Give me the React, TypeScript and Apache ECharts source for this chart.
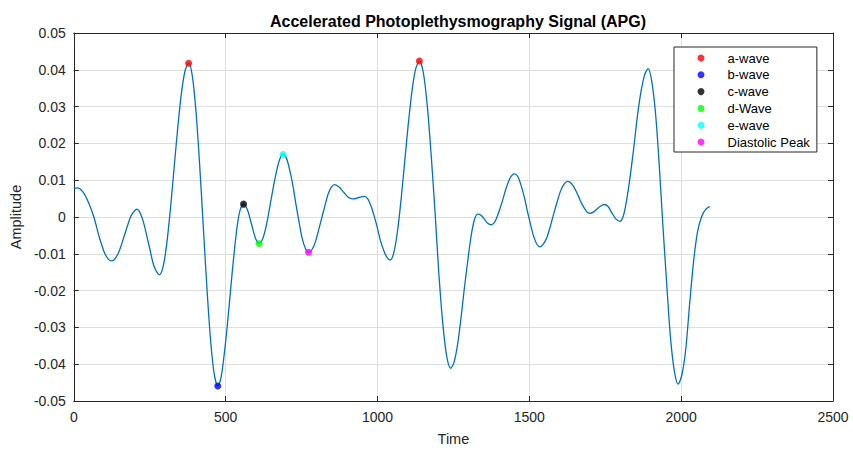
import React, { useEffect, useRef } from "react";
import * as echarts from "echarts";

// APG trace samples (time index, amplitude)
const signalTime = [
  0, 12, 30, 48, 66, 84, 100, 114, 126,
  146, 167, 187, 200, 208,
  226, 245, 263, 275, 282,
  294, 306, 318, 330, 342, 354, 366, 378,
  390, 402, 414, 426, 438, 450, 462, 474,
  485, 495, 506, 516, 527, 538, 548, 559,
  572, 585, 598, 610,
  620, 630, 640, 650, 660, 670, 680, 689,
  700, 710, 721, 731, 742, 752, 763, 773,
  784, 795, 805, 816, 827, 837, 848, 859,
  875, 890, 905, 921, 939, 957,
  968, 978, 989, 1000, 1010, 1021, 1031, 1042,
  1054, 1066, 1078, 1090, 1102, 1114, 1126, 1138,
  1151, 1164, 1177, 1190, 1202, 1215, 1228, 1241,
  1252, 1263, 1274, 1285, 1297, 1308, 1319, 1330,
  1341, 1352, 1363, 1374,
  1384, 1393, 1403, 1413, 1422, 1432, 1441, 1451,
  1462, 1472, 1483, 1493, 1504, 1514, 1525, 1535,
  1546, 1558, 1569, 1580, 1592, 1603, 1615, 1626,
  1635, 1645, 1654, 1663, 1672, 1682, 1691, 1700,
  1712, 1723, 1735, 1747, 1760, 1772, 1785, 1798,
  1810, 1821, 1833, 1845, 1856, 1868, 1880, 1891,
  1903, 1916, 1928, 1940, 1953, 1965, 1978, 1990,
  2002, 2015, 2028, 2041, 2054, 2067, 2080, 2094,
];

const signalAmp = [
  0.0078, 0.0079, 0.0068, 0.004, 0.0, -0.0055, -0.0095, -0.0115, -0.0119,
  -0.0099, -0.0049, 0.0001, 0.0017, 0.0021,
  -0.0005, -0.0068, -0.0131, -0.0152, -0.0157,
  -0.0135, -0.0073, 0.0021, 0.0131, 0.024, 0.0334, 0.0396, 0.0418,
  0.0385, 0.029, 0.0147, -0.002, -0.0188, -0.0331, -0.0425, -0.0459,
  -0.0435, -0.0375, -0.029, -0.02, -0.0105, -0.0025, 0.002, 0.0035,
  0.0019, -0.0019, -0.0057, -0.0072,
  -0.0063, -0.0037, 0.0003, 0.0049, 0.0094, 0.0133, 0.0161, 0.017,
  0.016, 0.0131, 0.0088, 0.0037, -0.0015, -0.0058, -0.0086, -0.0096,
  -0.0089, -0.0069, -0.0039, -0.0004, 0.0031, 0.0061, 0.0081, 0.0088,
  0.008, 0.0066, 0.0053, 0.0049, 0.0053, 0.0056,
  0.0049, 0.0031, 0.0003, -0.0031, -0.0065, -0.0092, -0.011, -0.0117,
  -0.0096, -0.0038, 0.005, 0.0154, 0.0257, 0.0345, 0.0403, 0.0424,
  0.0392, 0.0302, 0.0166, 0.0007, -0.0153, -0.0289, -0.0379, -0.0411,
  -0.0395, -0.035, -0.0282, -0.0201, -0.0121, -0.0053, -0.0008, 0.0008,
  0.0005, -0.0006, -0.0017, -0.0021,
  -0.0016, -0.0001, 0.0022, 0.0048, 0.0074, 0.0097, 0.0112, 0.0117,
  0.011, 0.0088, 0.0056, 0.0018, -0.002, -0.0052, -0.0074, -0.0081,
  -0.0074, -0.0055, -0.0026, 0.0008, 0.0042, 0.0071, 0.009, 0.0097,
  0.0094, 0.0084, 0.007, 0.0054, 0.0037, 0.0023, 0.0013, 0.001,
  0.0014, 0.0022, 0.003, 0.0034, 0.0028, 0.0011, -0.0005, -0.0012,
  0.0004, 0.0049, 0.0116, 0.0196, 0.0275, 0.0342, 0.0387, 0.0403,
  0.037, 0.0278, 0.0138, -0.0025, -0.0189, -0.0329, -0.0421, -0.0454,
  -0.043, -0.036, -0.0235, -0.012, -0.004, 0.0, 0.002, 0.0029,
];

// Detected fiducial points
const aWave = [[378, 0.0418], [1138, 0.0424]];
const bWave = [[474, -0.0459]];
const cWave = [[559, 0.0035]];
const dWave = [[610, -0.0072]];
const eWave = [[689, 0.017]];
const diastolicPeak = [[773, -0.0096]];

const xTicks = { min: 0, max: 2500, interval: 500 };
const yTicks = { min: -0.05, max: 0.05, interval: 0.01 };

const FONT = "'Liberation Sans', Arial, Helvetica, sans-serif";
const AXIS_COLOR = "#262626";
const GRID_COLOR = "#dedede";

export default function App() {
  const ref = useRef<HTMLDivElement>(null);

  useEffect(() => {
    if (!ref.current) return;
    const chart = echarts.init(ref.current, null, { renderer: "svg" });

    const line = signalTime.map((t, i) => [t, signalAmp[i]]);

    const marker = (name: string, color: string, data: number[][]) => ({
      name,
      type: "scatter",
      data,
      symbol: "circle",
      symbolSize: 7,
      itemStyle: { color },
      z: 5,
      xAxisIndex: 0,
      yAxisIndex: 0,
    });

    const frameLine = { show: true, onZero: false, lineStyle: { color: AXIS_COLOR, width: 1 } };
    const frameTick = { show: true, inside: true, length: 5, lineStyle: { color: AXIS_COLOR } };

    const edgeAxisCommon = {
      axisLine: frameLine,
      axisTick: frameTick,
      axisLabel: { show: false },
      splitLine: { show: false },
    };

    chart.setOption({
      animation: false,
      backgroundColor: "#ffffff",
      textStyle: { fontFamily: FONT },
      title: {
        text: "Accelerated Photoplethysmography Signal (APG)",
        left: 453,
        textAlign: "center",
        top: 8,
        textStyle: { fontFamily: FONT, fontSize: 16, fontWeight: "bold", color: "#000000" },
      },
      grid: { left: 73, right: 20, top: 33, bottom: 51, containLabel: false },
      legend: {
        orient: "vertical",
        left: 674,
        top: 47,
        padding: [4, 7, 3, 23.5],
        itemGap: 2.8,
        itemWidth: 25,
        itemHeight: 7,
        icon: "circle",
        borderColor: "#262626",
        borderWidth: 1,
        backgroundColor: "#ffffff",
        textStyle: {
          fontFamily: FONT,
          fontSize: 13,
          color: "#000000",
          lineHeight: 14,
          padding: [0, 0, 0, 9],
        },
        data: ["a-wave", "b-wave", "c-wave", "d-Wave", "e-wave", "Diastolic Peak"],
      },
      xAxis: [
        {
          type: "value",
          position: "bottom",
          ...xTicks,
          name: "Time",
          nameLocation: "middle",
          nameGap: 30,
          nameTextStyle: { fontFamily: FONT, fontSize: 14.5, color: AXIS_COLOR },
          axisLine: frameLine,
          axisTick: frameTick,
          axisLabel: {
            fontFamily: FONT,
            fontSize: 14,
            color: AXIS_COLOR,
            margin: 9,
            formatter: (v: number) => String(v),
          },
          splitLine: { show: true, lineStyle: { color: GRID_COLOR, width: 1 } },
        },
        { type: "value", position: "top", ...xTicks, ...edgeAxisCommon },
      ],
      yAxis: [
        {
          type: "value",
          position: "left",
          ...yTicks,
          name: "Amplitude",
          nameLocation: "middle",
          nameGap: 47,
          nameTextStyle: { fontFamily: FONT, fontSize: 14.5, color: AXIS_COLOR },
          axisLine: frameLine,
          axisTick: frameTick,
          axisLabel: {
            fontFamily: FONT,
            fontSize: 14,
            color: AXIS_COLOR,
            margin: 8,
            formatter: (v: number) => String(Number(v.toFixed(2))),
          },
          splitLine: { show: true, lineStyle: { color: GRID_COLOR, width: 1 } },
        },
        { type: "value", position: "right", ...yTicks, ...edgeAxisCommon },
      ],
      series: [
        {
          name: "APG",
          type: "line",
          data: line,
          showSymbol: false,
          smooth: 0.3,
          lineStyle: { color: "#0072BD", width: 1.3 },
          xAxisIndex: 0,
          yAxisIndex: 0,
          z: 2,
        },
        marker("a-wave", "#ff0000", aWave),
        marker("b-wave", "#0000ff", bWave),
        marker("c-wave", "#000000", cWave),
        marker("d-Wave", "#00ff00", dWave),
        marker("e-wave", "#00ffff", eWave),
        marker("Diastolic Peak", "#ff00ff", diastolicPeak),
      ],
    });

    return () => chart.dispose();
  }, []);

  return (
    <div
      ref={ref}
      style={{ position: "fixed", left: 0, top: 0, width: 853, height: 452, background: "#fff" }}
    />
  );
}
